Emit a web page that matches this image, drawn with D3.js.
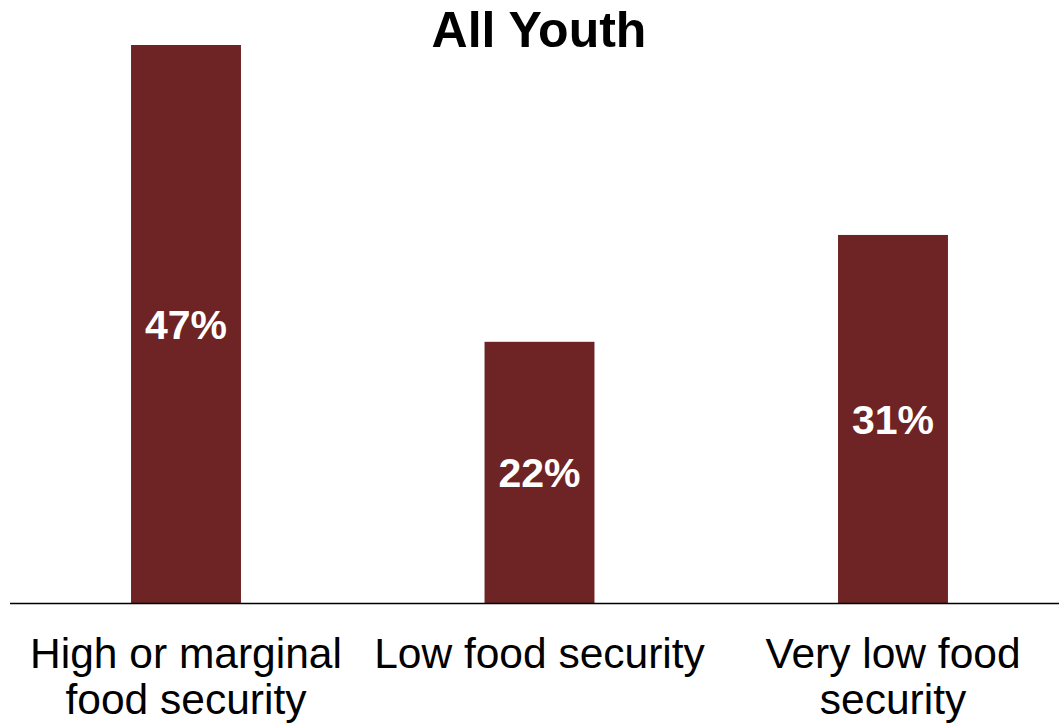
<!DOCTYPE html>
<html>
<head>
<meta charset="utf-8">
<script src="https://cdn.jsdelivr.net/npm/d3@7"></script>
<style>
  html, body { margin: 0; padding: 0; background: #fff; }
  svg { display: block; font-family: Arial, "Liberation Sans", sans-serif; }
</style>
</head>
<body>
<svg id="chart" width="1059" height="726"></svg>
<script>
const title = "All Youth";
const categories = ["High or marginal food security", "Low food security", "Very low food security"];
const categoryLines = [["High or marginal", "food security"], ["Low food security"], ["Very low food", "security"]];
const values = [47, 22, 31];
const valueLabels = ["47%", "22%", "31%"];

const W = 1059, H = 726;
const svg = d3.select("#chart");
const barColor = "#6E2424";

const x = d3.scaleBand().domain(categories).range([9.25, 1069.75]).paddingInner(0.689).paddingOuter(0.3445);
const y = d3.scaleLinear().domain([0, 47]).range([603, 45]);

svg.append("text")
  .attr("x", 539).attr("y", 47)
  .attr("text-anchor", "middle")
  .attr("font-size", 50).attr("font-weight", "bold")
  .attr("fill", "#000")
  .text(title);

svg.selectAll("rect.bar").data(values).enter().append("rect")
  .attr("class", "bar")
  .attr("x", (d, i) => x(categories[i]))
  .attr("width", x.bandwidth())
  .attr("y", d => y(d))
  .attr("height", d => y(0) - y(d))
  .attr("fill", barColor);

svg.selectAll("text.val").data(values).enter().append("text")
  .attr("class", "val")
  .attr("x", (d, i) => x(categories[i]) + x.bandwidth() / 2)
  .attr("y", d => (y(d) + y(0)) / 2 + 15)
  .attr("text-anchor", "middle")
  .attr("font-size", 41).attr("font-weight", "bold")
  .attr("fill", "#fff")
  .text((d, i) => valueLabels[i]);

// axis baseline
const axis = d3.axisBottom(x).tickSize(0).tickFormat(() => "");
const gAxis = svg.append("g").attr("transform", `translate(0,${y(0)})`).call(axis);
gAxis.select(".domain").attr("d", `M10,0.5H1059`).attr("stroke", "#000").attr("stroke-width", 1.5);

const labels = svg.selectAll("text.cat").data(categories).enter().append("text")
  .attr("class", "cat")
  .attr("text-anchor", "middle")
  .attr("font-size", 42.5)
  .attr("fill", "#000");
labels.each(function(d, i) {
  const t = d3.select(this);
  categoryLines[i].forEach((line, j) => {
    t.append("tspan")
      .attr("x", x(d) + x.bandwidth() / 2)
      .attr("y", 668 + j * 46)
      .text(line);
  });
});
</script>
</body>
</html>
